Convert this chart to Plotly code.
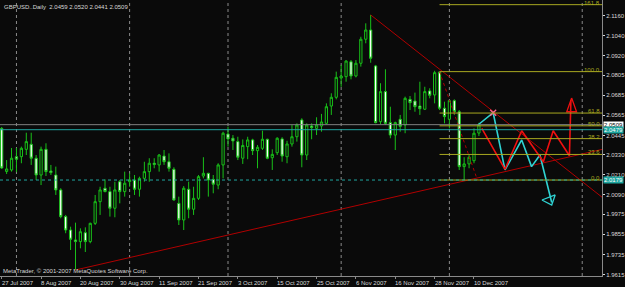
import plotly.graph_objects as go

# ---------------- data ----------------
title_text = "GBPUSD..Daily  2.0459 2.0520 2.0441 2.0509"
copyright_text = "MetaTrader, \u00a9 2001-2007 MetaQuotes Software Corp."

opens = [2.0486, 2.0230, 2.0239, 2.0318, 2.0318, 2.0362, 2.0392, 2.0309, 2.0209, 2.0362,
         2.0233, 2.0209, 2.0120, 1.9961, 1.9881, 1.9822, 1.9812, 1.9865, 1.9812, 1.9921,
         2.0050, 2.0130, 2.0110, 2.0011, 2.0169, 2.0110, 2.0169, 2.0179, 2.0124, 2.0189,
         2.0229, 2.0279, 2.0269, 2.0322, 2.0288, 2.0243, 2.0040, 1.9941, 2.0124, 2.0005,
         2.0070, 2.0203, 2.0219, 2.0183, 2.0149, 2.0269, 2.0453, 2.0428, 2.0408, 2.0309,
         2.0378, 2.0418, 2.0354, 2.0368, 2.0422, 2.0312, 2.0342, 2.0424, 2.0318, 2.0394,
         2.0437, 2.0537, 2.0328, 2.0501, 2.0487, 2.0501, 2.0517, 2.0620, 2.0672, 2.0787,
         2.0795, 2.0884, 2.0799, 2.0875, 2.1018, 2.1073, 2.0859, 2.0527, 2.0706, 2.0521,
         2.0447, 2.0541, 2.0507, 2.0660, 2.0650, 2.0620, 2.0601, 2.0710, 2.0686, 2.0823,
         2.0607, 2.0541, 2.0652, 2.0586, 2.0259, 2.0275, 2.0294, 2.0459]
highs = [2.0495, 2.0298, 2.0370, 2.0370, 2.0378, 2.0461, 2.0461, 2.0328, 2.0378, 2.0398,
         2.0269, 2.0259, 2.0130, 1.9971, 1.9901, 1.9925, 1.9891, 1.9897, 1.9925, 2.0090,
         2.0139, 2.0183, 2.0139, 2.0169, 2.0179, 2.0229, 2.0219, 2.0209, 2.0199, 2.0288,
         2.0309, 2.0309, 2.0334, 2.0358, 2.0338, 2.0255, 2.0080, 2.0143, 2.0169, 2.0139,
         2.0209, 2.0315, 2.0222, 2.0209, 2.0279, 2.0467, 2.0497, 2.0447, 2.0437, 2.0421,
         2.0437, 2.0425, 2.0388, 2.0473, 2.0425, 2.0362, 2.0434, 2.0434, 2.0413, 2.0507,
         2.0517, 2.0547, 2.0517, 2.0517, 2.0553, 2.0573, 2.0636, 2.0696, 2.0825, 2.0865,
         2.0894, 2.0894, 2.0894, 2.1033, 2.1113, 2.1163, 2.0865, 2.0756, 2.0839, 2.0616,
         2.0527, 2.0567, 2.0676, 2.0680, 2.0700, 2.0765, 2.0735, 2.0726, 2.0830, 2.0825,
         2.0646, 2.0656, 2.0660, 2.0596, 2.0315, 2.0328, 2.0487, 2.0520]
lows = [2.0245, 2.0215, 2.0229, 2.0227, 2.0279, 2.0328, 2.0269, 2.0179, 2.0149, 2.0203,
        2.0209, 2.0090, 1.9951, 1.9862, 1.9762, 1.9643, 1.9772, 1.9750, 1.9802, 1.9911,
        1.9971, 2.0106, 1.9961, 1.9957, 2.0040, 2.0080, 2.0139, 2.0090, 2.0080, 2.0169,
        2.0169, 2.0249, 2.0229, 2.0269, 2.0229, 2.0056, 1.9911, 1.9881, 1.9951, 1.9971,
        2.0060, 2.0189, 2.0080, 2.0100, 2.0124, 2.0189, 2.0378, 2.0358, 2.0298, 2.0275,
        2.0303, 2.0328, 2.0249, 2.0358, 2.0303, 2.0239, 2.0328, 2.0288, 2.0279, 2.0378,
        2.0408, 2.0255, 2.0298, 2.0422, 2.0447, 2.0467, 2.0513, 2.0567, 2.0660, 2.0735,
        2.0765, 2.0779, 2.0791, 2.0855, 2.0994, 2.0878, 2.0517, 2.0513, 2.0507, 2.0428,
        2.0358, 2.0467, 2.0458, 2.0596, 2.0586, 2.0567, 2.0596, 2.0666, 2.0636, 2.0596,
        2.0517, 2.0487, 2.0567, 2.0239, 2.0179, 2.0249, 2.0279, 2.0441]
closes = [2.0251, 2.0245, 2.0309, 2.0303, 2.0368, 2.0408, 2.0309, 2.0209, 2.0362, 2.0229,
          2.0223, 2.0120, 1.9961, 1.9881, 1.9826, 1.9812, 1.9871, 1.9812, 1.9921, 2.0050,
          2.0120, 2.0110, 2.0011, 2.0120, 2.0110, 2.0160, 2.0179, 2.0124, 2.0189, 2.0229,
          2.0279, 2.0272, 2.0328, 2.0288, 2.0249, 2.0060, 1.9941, 2.0130, 2.0005, 2.0070,
          2.0199, 2.0219, 2.0179, 2.0154, 2.0269, 2.0458, 2.0424, 2.0412, 2.0315, 2.0385,
          2.0418, 2.0354, 2.0374, 2.0422, 2.0309, 2.0332, 2.0428, 2.0322, 2.0394, 2.0437,
          2.0507, 2.0328, 2.0507, 2.0491, 2.0507, 2.0525, 2.0616, 2.0672, 2.0791, 2.0799,
          2.0888, 2.0799, 2.0875, 2.1018, 2.1073, 2.0905, 2.0521, 2.0706, 2.0517, 2.0447,
          2.0521, 2.0499, 2.0666, 2.0640, 2.0616, 2.0604, 2.0706, 2.0684, 2.0819, 2.0607,
          2.0557, 2.0652, 2.0586, 2.0259, 2.0275, 2.0315, 2.0458, 2.0509]

# date labels (bar index, text)
date_label_bars = [0, 8, 16, 24, 32, 40, 48, 56, 64, 72, 80, 88, 96]
date_labels = ["27 Jul 2007", "8 Aug 2007", "20 Aug 2007", "30 Aug 2007", "11 Sep 2007",
               "21 Sep 2007", "3 Oct 2007", "15 Oct 2007", "25 Oct 2007", "6 Nov 2007",
               "16 Nov 2007", "28 Nov 2007", "10 Dec 2007"]
# price axis labels
price_ticks = [2.1160, 2.1040, 2.0920, 2.0805, 2.0685, 2.0565, 2.0445,
               2.0330, 2.0210, 2.0090, 1.9975, 1.9855, 1.9735, 1.9615]
price_tick_text = ["2.1160", "2.1040", "2.0920", "2.0805", "2.0685", "2.0565", "2.0445",
                   "2.0330", "2.0210", "2.0090", "1.9975", "1.9855", "1.9735", "1.9615"]

# monthly period separators (bar index)
separator_bars = [3, 26, 46, 69, 91, 118]

# horizontal lines
bid_price = 2.0509
hline_upper = 2.0479
hline_lower = 2.0179

# fibonacci retracement
fib_start_bar = 89
fib_end_bar = 96.7
fib_high = 2.0825
fib_low = 2.0179
fib_levels = [0.0, 23.6, 38.2, 50.0, 61.8, 100.0, 161.8]

# trend lines
down_trend_x = [75, 122.1]
down_trend_y = [2.1163, 2.0075]
up_trend_x = [15, 122.1]
up_trend_y = [1.9643, 2.0362]

# projected waves
cyan_wave_x = [96.8, 99.9, 102.3, 105.7, 107.7, 109.4, 111.8]
cyan_wave_y = [2.0507, 2.0580, 2.0239, 2.0418, 2.0259, 2.0328, 2.0045]
cyan_head_x = [109.8, 112.5, 111.8, 109.8]
cyan_head_y = [2.0060, 2.0090, 2.0030, 2.0060]
red_wave_x = [97.6, 102.3, 105.7, 110.1, 112.1, 115.4, 115.7]
red_wave_y = [2.0487, 2.0243, 2.0473, 2.0288, 2.0473, 2.0324, 2.0656]
red_head_x = [115.85, 114.85, 116.85, 115.85]
red_head_y = [2.0668, 2.0586, 2.0586, 2.0668]

# ---------------- styles ----------------
BG = "#0a0a0a"
CANDLE = "#19c019"
FIB = "#a8a820"
TEAL = "#1fa6a0"
DARKRED = "#b00000"
CYAN = "#2fd3d3"
RED = "#f01010"
TXT = "#d8d8d8"
FONT = "Liberation Sans"
FS = 6

fig = go.Figure()

bars = list(range(len(opens)))
fig.add_trace(go.Candlestick(
    x=bars, open=opens, high=highs, low=lows, close=closes,
    increasing=dict(line=dict(color=CANDLE, width=1), fillcolor=BG),
    decreasing=dict(line=dict(color=CANDLE, width=1), fillcolor="#ffffff"),
    whiskerwidth=0, hoverinfo="skip", showlegend=False))

# period separators
for b in separator_bars:
    fig.add_shape(type="line", xref="x", yref="paper", x0=b, x1=b, y0=0, y1=1,
                  line=dict(color="#8a8a8a", width=1, dash="dot"), layer="below")

# full-width horizontal lines
fig.add_shape(type="line", xref="paper", yref="y", x0=0, x1=1, y0=bid_price, y1=bid_price,
              line=dict(color="#808080", width=1))
fig.add_shape(type="line", xref="paper", yref="y", x0=0, x1=1, y0=hline_upper, y1=hline_upper,
              line=dict(color=TEAL, width=1))

# fib levels
for lv in fib_levels:
    p = fib_low + (fib_high - fib_low) * lv / 100.0
    fig.add_shape(type="line", xref="x", yref="y", x0=fib_start_bar, x1=125, y0=p, y1=p,
                  line=dict(color=FIB, width=1))
    fig.add_annotation(xref="paper", yref="y", x=1, y=p, text="%.1f" % lv, showarrow=False,
                       xanchor="right", yanchor="bottom", xshift=-1, yshift=-2,
                       font=dict(family=FONT, size=FS, color=FIB), borderpad=0)

fig.add_shape(type="line", xref="paper", yref="y", x0=0, x1=1, y0=hline_lower, y1=hline_lower,
              line=dict(color=TEAL, width=1, dash="dot"))

# fib base line
fig.add_trace(go.Scatter(x=[fib_start_bar, fib_end_bar], y=[fib_high, fib_low], mode="lines",
                         line=dict(color=DARKRED, width=1, dash="dot"), hoverinfo="skip",
                         showlegend=False))
# trend lines
fig.add_trace(go.Scatter(x=down_trend_x, y=down_trend_y, mode="lines",
                         line=dict(color=DARKRED, width=1), hoverinfo="skip", showlegend=False))
fig.add_trace(go.Scatter(x=up_trend_x, y=up_trend_y, mode="lines",
                         line=dict(color=DARKRED, width=1), hoverinfo="skip", showlegend=False))

# waves
fig.add_trace(go.Scatter(x=cyan_wave_x, y=cyan_wave_y, mode="lines",
                         line=dict(color=CYAN, width=1.6), hoverinfo="skip", showlegend=False))
fig.add_trace(go.Scatter(x=cyan_head_x, y=cyan_head_y, mode="lines",
                         line=dict(color=CYAN, width=1.3), hoverinfo="skip", showlegend=False))
fig.add_trace(go.Scatter(x=[cyan_wave_x[1]], y=[cyan_wave_y[1]], mode="markers",
                         marker=dict(symbol="x-thin-open", size=6, line=dict(color=CYAN, width=1.3)),
                         hoverinfo="skip", showlegend=False))
fig.add_trace(go.Scatter(x=red_wave_x, y=red_wave_y, mode="lines",
                         line=dict(color=RED, width=1.6), hoverinfo="skip", showlegend=False))
fig.add_trace(go.Scatter(x=red_head_x, y=red_head_y, mode="lines",
                         line=dict(color=RED, width=1.3), hoverinfo="skip", showlegend=False))

# text
fig.add_annotation(xref="paper", yref="paper", x=0, y=1, text=title_text, showarrow=False,
                   xanchor="left", yanchor="top", xshift=3, yshift=-3, borderpad=0,
                   font=dict(family=FONT, size=FS, color=TXT))
fig.add_annotation(xref="paper", yref="paper", x=0, y=0, text=copyright_text, showarrow=False,
                   xanchor="left", yanchor="bottom", xshift=2, yshift=1, borderpad=0,
                   font=dict(family=FONT, size=FS, color=TXT))
for b, t in zip(date_label_bars, date_labels):
    fig.add_annotation(xref="x", yref="paper", x=b, y=0, text=t, showarrow=False,
                       xanchor="left", yanchor="top", xshift=-1, yshift=-3, borderpad=0,
                       font=dict(family=FONT, size=FS, color=TXT))

# price boxes
for p, bg, fg in [(bid_price, "#ffffff", "#000000"), (hline_upper, TEAL, "#ffffff"),
                  (hline_lower, TEAL, "#ffffff")]:
    fig.add_annotation(xref="paper", yref="y", x=1, y=p, text="%.4f" % p, showarrow=False,
                       xanchor="left", yanchor="middle", xshift=1, borderpad=0,
                       bgcolor=bg, font=dict(family=FONT, size=FS, color=fg))

fig.update_layout(
    width=625, height=287,
    margin=dict(l=0, r=23, t=0, b=11),
    paper_bgcolor=BG, plot_bgcolor=BG,
    showlegend=False, boxgap=0.35,
    xaxis=dict(range=[-0.3455, 122.02], rangeslider=dict(visible=False),
               showgrid=False, zeroline=False, showline=True, linecolor="#8a8a8a",
               ticks="outside", ticklen=2, tickcolor="#8a8a8a",
               tickvals=date_label_bars, showticklabels=False),
    yaxis=dict(side="right", range=[1.9607, 2.1252], showgrid=False, zeroline=False,
               showline=True, linecolor="#8a8a8a", ticks="outside", ticklen=2,
               tickcolor=TXT, tickvals=price_ticks, ticktext=price_tick_text,
               tickfont=dict(family=FONT, size=FS, color=TXT)),
)

fig.write_html("out.html")
